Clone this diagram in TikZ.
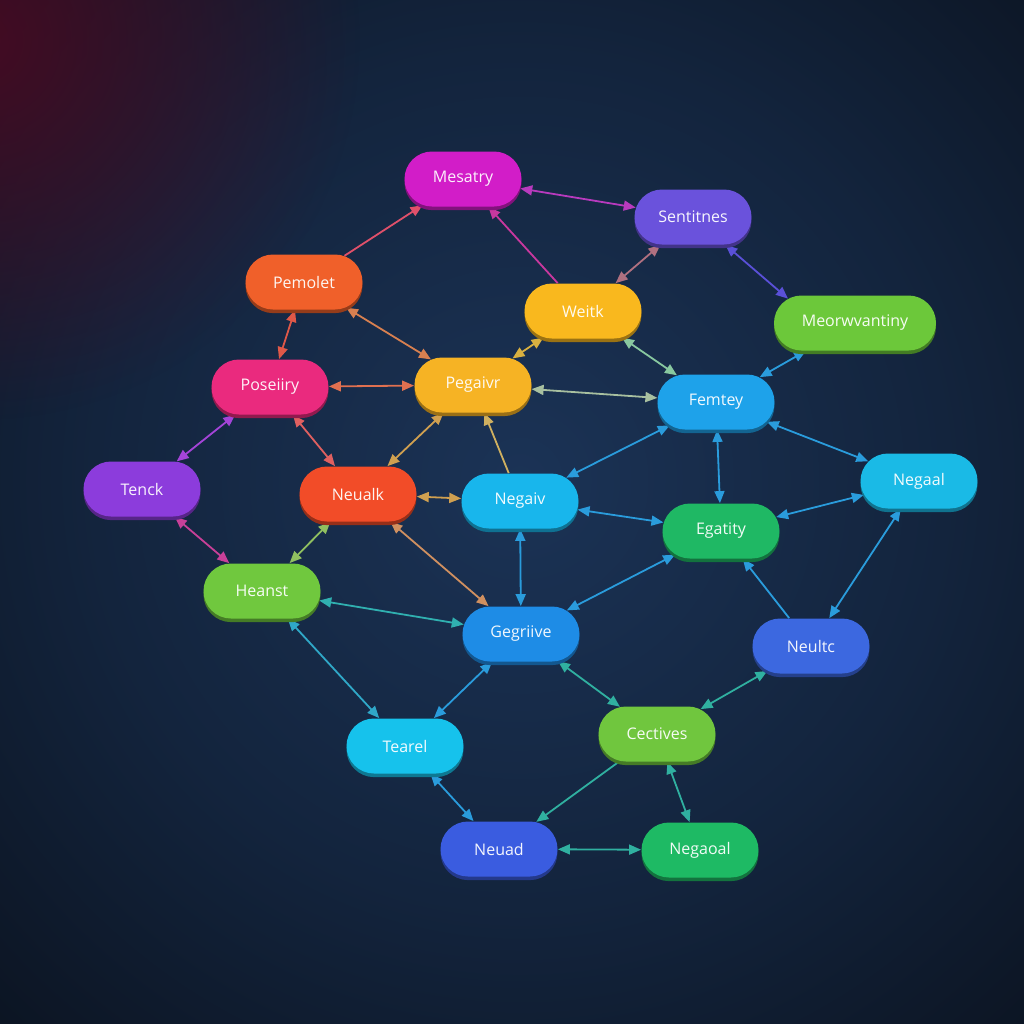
\documentclass[tikz,border=0pt]{standalone}
\usepackage{fontspec}
\setsansfont{Open Sans}
\usepackage{tikz}
\usetikzlibrary{shapes.misc,shadows,arrows.meta,fadings}

% background colours
\definecolor{bgmid}{HTML}{1B3356}
\definecolor{bgtwo}{HTML}{13243D}
\definecolor{bgout}{HTML}{0B1320}
\definecolor{bgcorner}{HTML}{05080E}
\definecolor{bgred}{HTML}{4A0A22}
\pgfdeclareradialshading{bgglow}{\pgfpoint{0bp}{0bp}}{color(0bp)=(bgmid); color(13bp)=(bgtwo); color(24bp)=(bgout); color(40bp)=(bgcorner); color(50bp)=(bgcorner)}
\tikzfading[name=redfade, inner color=transparent!0, outer color=transparent!100]

% node colours
\definecolor{cMes}{HTML}{D21DC8}
\definecolor{cSnt}{HTML}{6A52DC}
\definecolor{cPem}{HTML}{F0602A}
\definecolor{cWei}{HTML}{F9B81E}
\definecolor{cMeo}{HTML}{6CC83A}
\definecolor{cPos}{HTML}{EA2A7E}
\definecolor{cPeg}{HTML}{F6B324}
\definecolor{cFem}{HTML}{1EA2EA}
\definecolor{cTen}{HTML}{8C3CDC}
\definecolor{cNeu}{HTML}{F24C28}
\definecolor{cNga}{HTML}{18B6EC}
\definecolor{cNgl}{HTML}{1ABAE6}
\definecolor{cEga}{HTML}{1FB864}
\definecolor{cHea}{HTML}{70C83E}
\definecolor{cGeg}{HTML}{1E8CE6}
\definecolor{cNlt}{HTML}{3C68E0}
\definecolor{cTea}{HTML}{16C2EC}
\definecolor{cCec}{HTML}{70C63E}
\definecolor{cNud}{HTML}{3A5CE0}
\definecolor{cNgo}{HTML}{1EBA64}

% link colours
\definecolor{lBlue}{HTML}{2A9CDC}
\definecolor{lTeal}{HTML}{30B0A0}
\definecolor{lRose}{HTML}{E0506A}
\definecolor{lMag}{HTML}{C8389E}
\definecolor{lPurp}{HTML}{B83ABE}
\definecolor{lMauve}{HTML}{B07080}
\definecolor{lIndigo}{HTML}{5A50D8}
\definecolor{lMint}{HTML}{88C8A0}
\definecolor{lGold}{HTML}{D8B040}
\definecolor{lRed}{HTML}{E05848}
\definecolor{lOrange}{HTML}{D88050}
\definecolor{lCoral}{HTML}{E07050}
\definecolor{lViolet}{HTML}{A444D8}
\definecolor{lSalmon}{HTML}{E06060}
\definecolor{lSage}{HTML}{A8C0A0}
\definecolor{lTan}{HTML}{D0A050}
\definecolor{lSand}{HTML}{D0B060}
\definecolor{lPink}{HTML}{C84098}
\definecolor{lLime}{HTML}{90C060}
\definecolor{lCopper}{HTML}{D09060}
\definecolor{lCyan}{HTML}{30B0B0}
\definecolor{lSky}{HTML}{30A8C8}

\pgfdeclarelayer{back}
\pgfdeclarelayer{links}
\pgfsetlayers{back,links,main}

\begin{document}
\begin{tikzpicture}[x=0.5pt, y=-0.5pt,
  >={Triangle[length=6pt,width=5pt]},
  pill/.style={rounded rectangle, fill=#1, minimum width=58.5pt, minimum height=27.5pt,
    inner sep=0pt, text=white!94!#1, font=\sffamily\fontsize{8}{9}\selectfont,
    general shadow={fill=#1!62!black, shadow yshift=-1.8pt}},
  link/.style={draw=#1, line width=0.9pt, <->},
  link1/.style={draw=#1, line width=0.9pt, ->}]
  \useasboundingbox (0,0) rectangle (1024,1024);
  % background
  \begin{pgfonlayer}{back}
    \fill[bgcorner] (0,0) rectangle (1024,1024);
    \shade[shading=bgglow] (520,480) circle (820);
    \fill[bgred, path fading=redfade, opacity=0.9] (-20,40) circle (380);
  \end{pgfonlayer}
  % nodes, top to bottom
  \node[pill=cMes] (mes) at (463,179) {Mesatry};
  \node[pill=cSnt] (snt) at (693,217) {Sentitnes};
  \node[pill=cPem] (pem) at (304,282) {Pemolet};
  \node[pill=cWei] (wei) at (583,311) {Weitk};
  \node[pill=cMeo, minimum width=81pt] (meo) at (855,323) {Meorwvantiny};
  \node[pill=cPos] (pos) at (270,387) {Poseiiry};
  \node[pill=cPeg] (peg) at (473,385) {Pegaivr};
  \node[pill=cFem] (fem) at (716,402) {Femtey};
  \node[pill=cTen] (ten) at (142,489) {Tenck};
  \node[pill=cNeu] (neu) at (358,494) {Neualk};
  \node[pill=cNga] (nga) at (520,501) {Negaiv};
  \node[pill=cNgl] (ngl) at (919,481) {Negaal};
  \node[pill=cEga] (ega) at (721,531) {Egatity};
  \node[pill=cHea] (hea) at (262,591) {Heanst};
  \node[pill=cGeg] (geg) at (521,634) {Gegriive};
  \node[pill=cNlt] (nlt) at (811,646) {Neultc};
  \node[pill=cTea] (tea) at (405,746) {Tearel};
  \node[pill=cCec] (cec) at (657,734) {Cectives};
  \node[pill=cNud] (nud) at (499,849) {Neuad};
  \node[pill=cNgo] (ngo) at (700,850) {Negaoal};
  % links
  \begin{pgfonlayer}{links}
    \draw[link1=lRose] (pem) -- (mes);
    \draw[link1=lMag] (wei) -- (mes);
    \draw[link=lPurp] (mes) -- (snt);
    \draw[link=lMauve] (snt) -- (wei);
    \draw[link=lIndigo] (snt) -- (meo.160);
    \draw[link=lBlue] (meo) -- (fem);
    \draw[link=lMint] (wei) -- (fem);
    \draw[link=lGold] (wei) -- (peg);
    \draw[link=lRed] (pem) -- (pos);
    \draw[link=lOrange] (pem) -- (peg);
    \draw[link=lCoral] (pos) -- (peg);
    \draw[link=lViolet] (pos) -- (ten);
    \draw[link=lSalmon] (pos) -- (neu);
    \draw[link=lSage] (peg) -- (fem);
    \draw[link=lTan] (peg) -- (neu);
    \draw[link1=lSand] (nga) -- (peg);
    \draw[link=lTan] (neu) -- (nga);
    \draw[link=lPink] (ten) -- (hea);
    \draw[link=lLime] (neu) -- (hea);
    \draw[link=lCopper] (neu) -- (geg);
    \draw[link=lBlue] (fem) -- (nga);
    \draw[link=lBlue] (fem) -- (ega);
    \draw[link=lBlue] (fem) -- (ngl);
    \draw[link=lBlue] (nga) -- (ega);
    \draw[link=lBlue] (ngl) -- (ega);
    \draw[link=lBlue] (nga) -- (geg);
    \draw[link=lBlue] (geg) -- (ega);
    \draw[link1=lBlue] (nlt) -- (ega);
    \draw[link=lBlue] (ngl) -- (nlt);
    \draw[link=lCyan] (hea) -- (geg);
    \draw[link=lSky] (hea) -- (tea);
    \draw[link=lBlue] (geg) -- (tea);
    \draw[link=lTeal] (geg) -- (cec);
    \draw[link=lTeal] (nlt) -- (cec);
    \draw[link=lBlue] (tea) -- (nud);
    \draw[link1=lTeal] (cec) -- (nud);
    \draw[link=lTeal] (cec) -- (ngo);
    \draw[link=lTeal] (nud) -- (ngo);
  \end{pgfonlayer}
\end{tikzpicture}
\end{document}
